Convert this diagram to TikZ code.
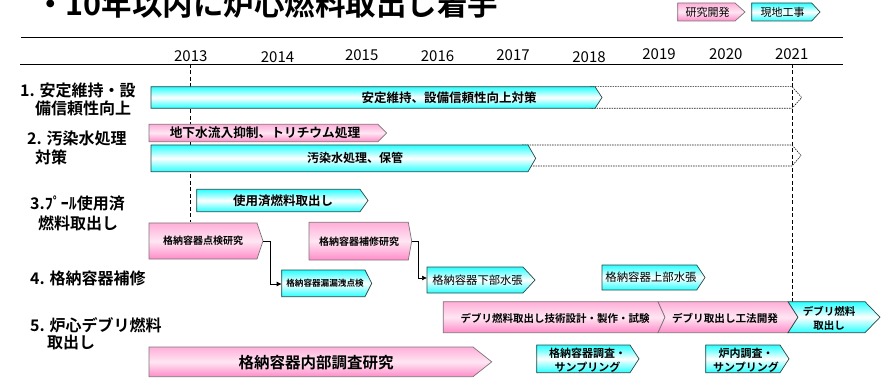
\documentclass[tikz,border=0pt]{standalone}
\usepackage{fontspec}
\setmainfont{Noto Sans CJK JP}[BoldFont={Noto Sans CJK JP Bold}]
\usetikzlibrary{arrows.meta}
\definecolor{cyA}{RGB}{40,255,255}
\definecolor{pkA}{RGB}{255,140,200}
\definecolor{pkL}{RGB}{255,230,243}
\definecolor{edgeC}{RGB}{40,70,70}
\definecolor{edgeP}{RGB}{125,115,120}
\newcommand{\chevshape}[7]{\path[#1] (#2,#5) -- (#3,#5) -- (#4,{(#5+#6)/2}) -- (#3,#6) -- (#2,#6) -- ({#2+#7},{(#5+#6)/2}) -- cycle;}
\tikzset{
  cybar/.style={top color=cyA, bottom color=cyA, middle color=white, draw=edgeC, line width=0.7pt},
  pkbar/.style={top color=pkA!70!white, bottom color=pkA, middle color=pkL, draw=edgeP, line width=0.7pt},
  dashbox/.style={draw=black!90, dash pattern=on 1.5pt off 1pt, line width=0.6pt},
  vdash/.style={draw=black, dash pattern=on 4pt off 2.5pt, line width=0.8pt},
  rule/.style={draw=black, line width=0.9pt},
  conn/.style={draw=black, line width=0.7pt, -{Latex[length=5pt,width=5pt]}},
  rfs/.style 2 args={inner sep=0pt, font=\fontsize{#1}{#2}\selectfont},
  bfs/.style 2 args={inner sep=0pt, align=center, font=\fontsize{#1}{#2}\selectfont\bfseries},
  yearlab/.style={rfs={15}{18}},
  leftlab/.style={bfs={16}{18}, anchor=west},
}
\begin{document}
\begin{tikzpicture}[x=1pt,y=-1pt]
\useasboundingbox (0,0) rectangle (888,387);
% title
\node[bfs={30.5}{32}, anchor=base west] (title) at (35,16) {・10年以内に炉心燃料取出し着手};
% legend
\chevshape{pkbar}{677.7}{735}{745}{3}{21}{0}
\node[rfs={11}{12}] (legP) at (707.5,12) {研究開発};
\chevshape{cybar}{751.7}{811.7}{820}{3}{21}{0}
\node[rfs={11}{12}] (legC) at (782.5,12) {現地工事};
% rules
\draw[rule] (21,37) -- (843,37);
\draw[rule] (20,64) -- (843,64);
% years
\node[yearlab] (y13) at (190.8,56) {2013};
\node[yearlab] (y14) at (277.5,57.5) {2014};
\node[yearlab] (y15) at (361.7,55) {2015};
\node[yearlab] (y16) at (437.5,56) {2016};
\node[yearlab] (y17) at (513,55.5) {2017};
\node[yearlab] (y18) at (589,57) {2018};
\node[yearlab] (y19) at (659,54) {2019};
\node[yearlab] (y20) at (725.8,54) {2020};
\node[yearlab] (y21) at (791.7,54) {2021};
% vertical dashed lines
\coordinate (v13a) at (190,64); \coordinate (v13b) at (190,222);
\coordinate (v21a) at (792,64); \coordinate (v21b) at (792,302);
\draw[vdash] (v13a) -- (v13b);
\draw[vdash] (v21a) -- (v21b);
% left labels
\node[leftlab] (l1a) at (20,90) {1. 安定維持・設};
\node[leftlab] (l1b) at (35,108) {備信頼性向上};
\node[leftlab] (l2a) at (27,138) {2. 汚染水処理};
\node[leftlab] (l2b) at (35,157) {対策};
\node[leftlab] (l3a) at (30,203) {3.ﾌﾟｰﾙ使用済};
\node[leftlab] (l3b) at (38,223) {燃料取出し};
\node[leftlab] (l4) at (30,278) {4. 格納容器補修};
\node[leftlab] (l5a) at (30,325) {5. 炉心デブリ燃料};
\node[leftlab] (l5b) at (47,343) {取出し};
% row 1
\path[dashbox] (590,86.7) -- (792,86.7) -- (801.7,97.5) -- (792,108.3) -- (590,108.3);
\chevshape{cybar}{151}{595}{602}{86.7}{108.3}{0}
\node[bfs={12.5}{14}] (r1) at (449,97.5) {安定維持、設備信頼性向上対策};
% row 2
\chevshape{pkbar}{149}{378}{386.7}{124.3}{141.7}{0}
\node[bfs={12.7}{14}] (r2a) at (265,133) {地下水流入抑制、トリチウム処理};
\path[dashbox] (522,145) -- (792,145) -- (801,155.5) -- (792,166) -- (522,166);
\chevshape{cybar}{151}{528}{535.7}{145}{171.7}{0}
\node[bfs={12}{14}] (r2b) at (355,158) {汚染水処理、保管};
% row 3
\chevshape{cybar}{196.7}{360}{368}{189.3}{211.7}{0}
\node[bfs={12.5}{14}] (r3) at (283,200.5) {使用済燃料取出し};
% row 4
\chevshape{pkbar}{149}{257}{263}{223}{259}{0}
\node[bfs={10}{12}] (p1) at (203,241) {格納容器点検研究};
\coordinate (p1tip) at (263,241);
\chevshape{cybar}{281.7}{365}{371.7}{270}{296.7}{0}
\node[bfs={8.6}{10}] (c1) at (325,283.3) {格納容器漏漏洩点検};
\coordinate (c1w) at (281.7,284);
\chevshape{pkbar}{309}{408.3}{411.7}{222.3}{260}{0}
\node[bfs={10}{12}] (p2) at (359,241.7) {格納容器補修研究};
\coordinate (p2tip) at (411.7,241.2);
\chevshape{cybar}{427}{523}{535}{267}{293}{0}
\node[rfs={11.3}{13}] (c2) at (477.5,280) {格納容器下部水張};
\coordinate (c2w) at (427,278);
\chevshape{cybar}{602}{696.7}{705}{265}{290}{0}
\node[rfs={11.4}{13}] (c3) at (651,277.5) {格納容器上部水張};
\draw[conn] (p1tip) -- ++(7,0) |- (c1w);
\draw[conn] (p2tip) -- ++(6.5,0) |- (c2w);
% row 5
\chevshape{pkbar}{443.3}{658}{665}{301.7}{332.7}{0}
\node[bfs={10.5}{12}] (d1) at (555,318) {デブリ燃料取出し技術設計・製作・試験};
\chevshape{pkbar}{658}{788}{798}{301.7}{332.7}{7}
\node[bfs={10.6}{12}] (d2) at (725,318) {デブリ取出し工法開発};
\chevshape{cybar}{788}{865}{880}{301.7}{332.7}{10}
\node[bfs={10.5}{13.3}] (d3) at (829,318.3) {デブリ燃料\\取出し};
\chevshape{pkbar}{149}{473}{491.7}{347}{376.7}{0}
\node[bfs={15.5}{17}] (e1) at (316,363) {格納容器内部調査研究};
\chevshape{cybar}{536.7}{630}{639}{345}{372.7}{0}
\node[bfs={11}{14}] (e2) at (587.5,360) {格納容器調査・\\サンプリング};
\chevshape{cybar}{705.7}{780}{789}{345}{372.7}{0}
\node[bfs={11}{14}] (e3) at (746,360) {炉内調査・\\サンプリング};
\end{tikzpicture}
\end{document}
